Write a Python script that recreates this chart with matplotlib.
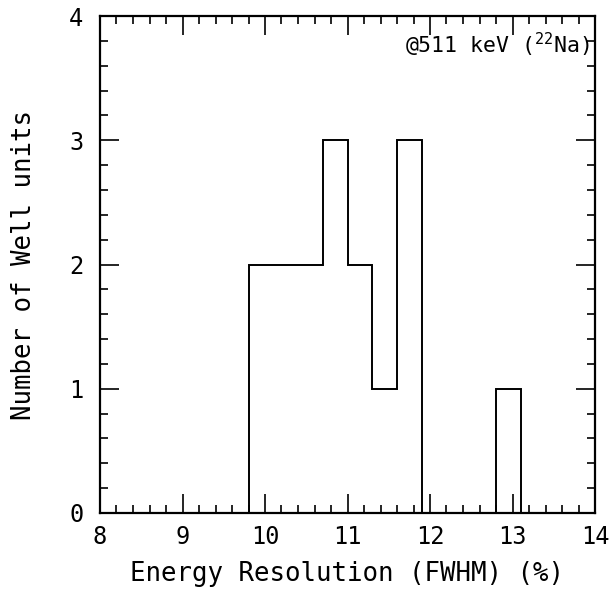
import matplotlib
matplotlib.use('Agg')
import matplotlib.pyplot as plt
from matplotlib.ticker import MultipleLocator

# histogram of energy resolution per well unit
bin_edges = [9.8, 10.1, 10.4, 10.7, 11.0, 11.3, 11.6, 11.9, 12.2, 12.5, 12.8, 13.1]
counts = [2, 2, 2, 3, 2, 1, 3, 0, 0, 0, 1]

xticks = [8, 9, 10, 11, 12, 13, 14]
yticks = [0, 1, 2, 3, 4]

plt.rcParams['font.family'] = 'DejaVu Sans Mono'
plt.rcParams['mathtext.fontset'] = 'custom'
plt.rcParams['mathtext.rm'] = 'DejaVu Sans Mono'

fig = plt.figure(figsize=(6.13, 5.92), dpi=100)
ax = fig.add_axes([100/613, 79/592, 495/613, 497/592])

ax.stairs(counts, bin_edges, baseline=0, color='black', linewidth=1.4)

ax.set_xlim(8, 14)
ax.set_ylim(0, 4)
ax.set_xticks(xticks)
ax.set_yticks(yticks)
ax.xaxis.set_minor_locator(MultipleLocator(0.2))
ax.yaxis.set_minor_locator(MultipleLocator(0.2))
ax.tick_params(which='both', direction='in', top=True, right=True, width=1.2, color='black')
ax.tick_params(which='major', length=14, labelsize=17)
ax.tick_params(axis='x', which='major', pad=9)
ax.tick_params(axis='y', which='major', pad=12)
ax.tick_params(which='minor', length=6)
for s in ax.spines.values():
    s.set_linewidth(1.6)

ax.set_xlabel('Energy Resolution (FWHM) (%)', fontsize=18.5, labelpad=8)
ax.set_ylabel('Number of Well units', fontsize=18.5)
ax.yaxis.set_label_coords(-0.127, 0.5)

ax.text(0.99, 0.942, r'@511 keV ($\mathrm{^{22}}$Na)', transform=ax.transAxes,
        ha='right', va='center', fontsize=15.5)

fig.savefig('out.png', dpi=100)
